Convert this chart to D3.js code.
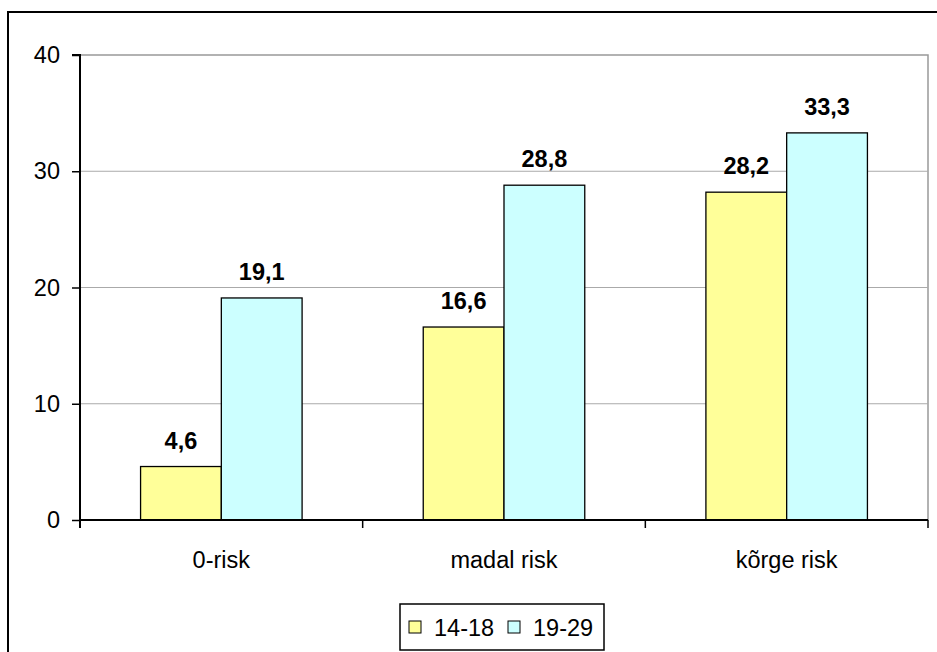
<!DOCTYPE html>
<html><head><meta charset="utf-8">
<script src="https://cdn.jsdelivr.net/npm/d3@7"></script>
<style>body{margin:0;background:#fff}svg{display:block;font-family:"Liberation Sans",Arial,sans-serif}</style>
</head><body>
<svg id="c" width="937" height="652"></svg>
<script>
const categories = ["0-risk", "madal risk", "kõrge risk"];
const seriesNames = ["14-18", "19-29"];
const series1 = [4.6, 16.6, 28.2];
const series2 = [19.1, 28.8, 33.3];
const yTicks = [0, 10, 20, 30, 40];
const colors = ["#FFFF99", "#CCFFFF"];
const FS = 23.5;

const svg = d3.select("#c");
// outer border
svg.append("rect").attr("x", 8).attr("y", 12).attr("width", 960).attr("height", 700)
  .attr("fill", "#fff").attr("stroke", "#000").attr("stroke-width", 2);

const L = 80, R = 928, T = 55, B = 520;
const x0 = d3.scaleBand().domain(categories).range([L, R]).paddingInner(0).paddingOuter(0);
const y = d3.scaleLinear().domain([0, 40]).range([B, T]);
const groupW = x0.bandwidth();
const barW = groupW / 3.5;

// plot border (gray)
svg.append("path").attr("d", `M${L},${T}H${R}V${B}`).attr("fill", "none").attr("stroke", "#999").attr("stroke-width", 1.5);
// gridlines
svg.selectAll(".grid").data(yTicks.filter(d => d > 0 && d < 40)).enter().append("line")
  .attr("x1", L).attr("x2", R).attr("y1", d => y(d)).attr("y2", d => y(d))
  .attr("stroke", "#aaa").attr("stroke-width", 1);

const data = categories.map((c, i) => ({c, vals: [series1[i], series2[i]]}));
const g = svg.selectAll(".grp").data(data).enter().append("g");
g.each(function(d) {
  const gx = x0(d.c) + (groupW - 2 * barW) / 2;
  d.vals.forEach((v, j) => {
    d3.select(this).append("rect")
      .attr("x", gx + j * barW).attr("y", y(v)).attr("width", barW).attr("height", B - y(v))
      .attr("fill", colors[j]).attr("stroke", "#000").attr("stroke-width", 1.3);
    d3.select(this).append("text")
      .attr("x", gx + j * barW + barW / 2).attr("y", y(v) - 18)
      .attr("text-anchor", "middle").attr("font-size", FS).attr("font-weight", "bold")
      .text(String(v).replace(".", ","));
  });
});

// y axis
const yAxis = d3.axisLeft(y).tickValues(yTicks).tickSize(8).tickPadding(12).tickFormat(d3.format("d"));
const ya = svg.append("g").attr("transform", `translate(${L},0)`).call(yAxis);
ya.select(".domain").attr("stroke", "#000").attr("stroke-width", 2).attr("d", `M-8,${T}H0V${B + 8}`);
ya.selectAll(".tick line").attr("stroke", "#000").attr("stroke-width", 1.5);
ya.selectAll("text").attr("font-size", FS).attr("fill", "#000").attr("font-family", "Liberation Sans, Arial, sans-serif");

// x axis
const xAxis = d3.axisBottom(x0).tickSize(0).tickPadding(31);
const xa = svg.append("g").attr("transform", `translate(0,${B})`).call(xAxis);
xa.select(".domain").attr("stroke", "#000").attr("stroke-width", 2).attr("d", `M${L},0H${R}`);
xa.selectAll("text").attr("font-size", FS).attr("fill", "#000").attr("font-family", "Liberation Sans, Arial, sans-serif");
// category boundary ticks
const bounds = categories.map(c => x0(c)).concat([R]);
svg.selectAll(".xt").data(bounds).enter().append("line")
  .attr("x1", d => d).attr("x2", d => d).attr("y1", B).attr("y2", B + 8)
  .attr("stroke", "#000").attr("stroke-width", 1.5);

// legend
const lg = svg.append("g");
lg.append("rect").attr("x", 400).attr("y", 604).attr("width", 204).attr("height", 46)
  .attr("fill", "#fff").attr("stroke", "#000").attr("stroke-width", 1.5);
const lx = [409, 508];
seriesNames.forEach((n, i) => {
  lg.append("rect").attr("x", lx[i]).attr("y", 621).attr("width", 12).attr("height", 12)
    .attr("fill", colors[i]).attr("stroke", "#000").attr("stroke-width", 1);
  lg.append("text").attr("x", lx[i] + 25).attr("y", 636).attr("font-size", FS).text(n);
});
</script>
</body></html>
